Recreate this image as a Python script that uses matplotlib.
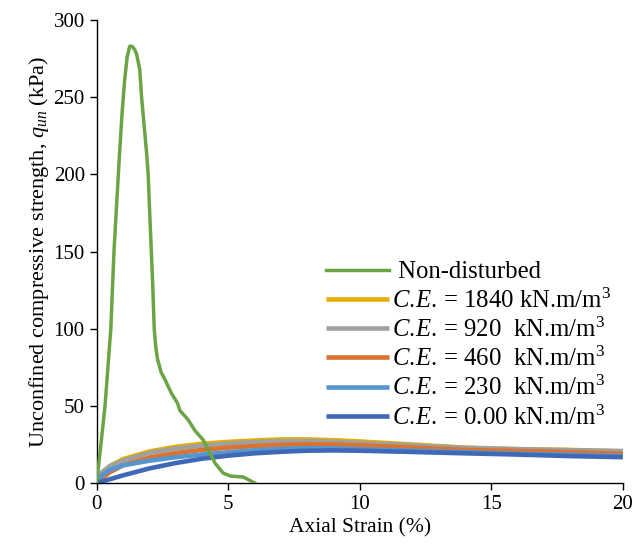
import matplotlib
matplotlib.use('Agg')
import matplotlib.pyplot as plt

plt.rcParams['font.family'] = ['Liberation Serif', 'DejaVu Serif']
plt.rcParams['mathtext.fontset'] = 'custom'
plt.rcParams['mathtext.rm'] = 'Liberation Serif'
plt.rcParams['mathtext.it'] = 'Liberation Serif:italic'

# non-disturbed sample
nd_strain = [0, 0.1, 0.32, 0.54, 0.66, 0.76, 0.86, 0.97, 1.06, 1.16, 1.26, 1.35, 1.44, 1.52,
             1.64, 1.71, 1.9, 1.96, 2.0, 2.08, 2.13, 2.19, 2.25, 2.32, 2.45, 2.6,
             2.85, 3.07, 3.17, 3.48, 3.74, 4.05, 4.31, 4.5, 4.81, 5.1, 5.57, 6.02]
nd_q = [0, 15, 50, 100, 150, 180, 210, 240, 260, 276, 283, 283, 281, 278,
        268, 250, 214, 200, 183, 150, 130, 100, 88, 80, 72, 67,
        58, 52, 47, 41, 34, 28, 19.4, 13, 6.5, 4.5, 4, 0]

# remoulded samples
strain = [0, 0.2, 0.5, 1, 2, 3, 4, 5, 6, 7, 8, 9, 10, 12, 14, 16, 18, 20]
q_1840 = [0, 6, 11, 15.5, 20.5, 23.5, 25.5, 26.7, 27.6, 28.3, 28.3, 27.8, 27, 25, 23, 22, 21.5, 20.5]
q_920 = [0, 7, 11, 14.5, 19.5, 22.5, 24.3, 25.6, 26.6, 27.2, 27.3, 26.8, 26, 24.5, 22.8, 22, 21.3, 20.8]
q_460 = [0, 3, 7, 11.5, 16.5, 19.5, 21.5, 23, 24, 24.8, 25.2, 25, 24.5, 23, 21.5, 20.8, 20, 19]
q_230 = [0, 5, 8.5, 11.5, 14.5, 16.8, 18.5, 20, 21.3, 22.2, 22.6, 22.5, 22, 21, 20, 19, 18.3, 17.5]
q_000 = [0, 1, 2.5, 5, 9.5, 13, 15.8, 17.8, 19.3, 20.3, 21, 21.2, 21, 20.2, 19.3, 18.5, 17.5, 16.8]

ce = r'$\it{C.\!E.\!}$'
labels = [' Non-disturbed',
          ce + ' = 1840 kN.m/m$^3$',
          ce + ' = 920  kN.m/m$^3$',
          ce + ' = 460  kN.m/m$^3$',
          ce + ' = 230  kN.m/m$^3$',
          ce + ' = 0.00 kN.m/m$^3$']
colors = ['#6AA444', '#E5AE00', '#A0A0A0', '#DA7230', '#5696CE', '#3F68B6']

fig = plt.figure(figsize=(6.44, 5.49), dpi=100)
ax = fig.add_axes([0.150, 0.120, 0.817, 0.8435])

ax.plot(nd_strain, nd_q, color=colors[0], lw=2.5, label=labels[0], zorder=5)
for q, c, lab in zip([q_1840, q_920, q_460, q_230, q_000], colors[1:], labels[1:]):
    ax.plot(strain, q, color=c, lw=3.3, label=lab, solid_capstyle='butt')

ax.set_xlim(0, 20)
ax.set_ylim(0, 300)
ax.set_xticks([0, 5, 10, 15, 20])
ax.set_yticks(range(0, 301, 50))
ax.tick_params(labelsize=15, direction='out', length=5, width=1)
for s in ['top', 'right']:
    ax.spines[s].set_visible(False)
for s in ['left', 'bottom']:
    ax.spines[s].set_linewidth(1)

ax.set_xlabel('Axial Strain (%)', fontsize=15.5, labelpad=3)
ax.set_ylabel(r'Unconfined compressive strength, $q_{un}$ (kPa)', fontsize=16, labelpad=2)

ax.legend(loc='upper left', bbox_to_anchor=(326 / 644, 1 - 261 / 549),
          bbox_transform=fig.transFigure, frameon=False, fontsize=17.8,
          handlelength=2.55, handletextpad=0.1, labelspacing=0.2,
          borderpad=0, borderaxespad=0)

fig.savefig('out.png', dpi=100)
